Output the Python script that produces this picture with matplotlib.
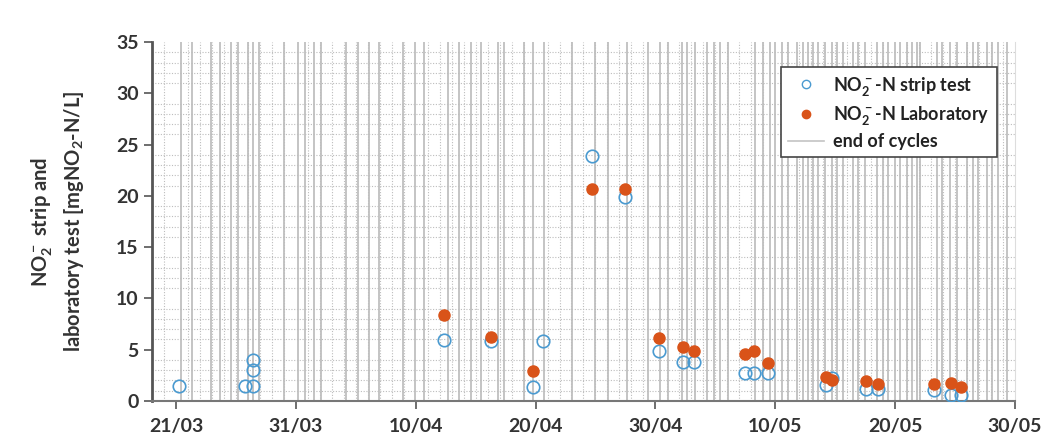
import numpy as np
import pandas as pd
import matplotlib
matplotlib.use("Agg")
from matplotlib import pyplot as plt
import matplotlib.dates as mdates
from matplotlib.lines import Line2D

START = pd.Timestamp("2021-03-21")

# sampling days, counted from 21/03
strip_days = [0.25, 5.75, 6.4, 6.4, 6.4, 22.4, 26.3, 29.75, 30.6, 34.75, 37.5,
              40.3, 42.3, 43.25, 47.5, 48.25, 49.4, 54.2, 54.7, 57.6, 58.6,
              63.25, 64.7, 65.5]
strip_vals = [1.5, 1.5, 1.5, 3.0, 4.0, 5.9, 5.85, 1.4, 5.85, 23.9, 19.9,
              4.9, 3.8, 3.8, 2.7, 2.7, 2.7, 1.6, 2.2, 1.2, 1.2,
              1.1, 0.6, 0.6]

lab_days = [22.4, 26.3, 29.75, 34.75, 37.5, 40.3, 42.3, 43.25, 47.5, 48.25,
            49.4, 54.2, 54.7, 57.6, 58.6, 63.25, 64.7, 65.5]
lab_vals = [8.4, 6.2, 2.9, 20.7, 20.7, 6.1, 5.3, 4.9, 4.6, 4.9,
            3.7, 2.3, 2.0, 1.9, 1.7, 1.7, 1.8, 1.35]

# end of each treatment cycle, days from 21/03
cycle_days = [0.42, 1.33, 2.92, 3.67, 4.58, 5.17, 6.0, 6.42, 6.92, 9.0, 10.17,
              10.75, 11.5, 12.08, 14.17, 15.17, 16.08, 16.92, 18.92, 19.92,
              20.67, 22.67, 23.58, 24.58, 25.42, 26.83, 27.33, 29.0, 29.83,
              30.67, 33.08, 35.0, 36.08, 37.67, 39.42, 40.42, 41.08, 42.25,
              42.67, 43.33, 44.33, 44.92, 45.42, 46.08, 48.33, 49.0, 49.58,
              50.0, 50.58, 51.08, 51.83, 52.33, 52.75, 53.17, 53.58, 54.17,
              54.75, 55.17, 55.67, 56.5, 56.92, 57.5, 58.5, 59.0, 59.42, 60.0,
              60.42, 61.0, 61.42, 61.83, 62.08, 63.5, 63.92, 64.58, 65.17,
              66.0, 66.5, 66.92, 67.67, 68.08, 68.58, 69.33]

tick_days = [0, 10, 20, 30, 40, 50, 60, 70]


def to_dates(days):
    return START + pd.to_timedelta(np.asarray(days), unit="D")


BLUE = "#4a9ad0"
ORANGE = "#d95319"
GRID = "#c4c4c4"
TEXT = "#333333"

plt.rcParams["font.family"] = ["Lato", "DejaVu Sans"]
plt.rcParams["mathtext.fontset"] = "custom"
plt.rcParams["mathtext.rm"] = "Lato:bold"
plt.rcParams["mathtext.bf"] = "Lato:bold"

fig = plt.figure(figsize=(10.48, 4.48), dpi=100)
ax = fig.add_axes([0.145, 0.105, 0.8235, 0.801])

x0 = mdates.date2num(to_dates([-2])[0])
x1 = mdates.date2num(to_dates([70])[0])
ax.set_xlim(x0, x1)
ax.set_ylim(0, 35)

# dotted minor grid: daily and every 1 mg/L
ax.set_xticks(mdates.date2num(to_dates(np.arange(-2, 71))), minor=True)
ax.set_yticks(np.arange(0, 36, 1), minor=True)
ax.grid(which="minor", color="#bdbdbd", linestyle=(0, (1, 1.5)), linewidth=0.8)
ax.tick_params(which="minor", length=0)

# end of cycles
for d in mdates.date2num(to_dates(cycle_days)):
    ax.axvline(d, color=GRID, linewidth=1.4, zorder=1)

ax.plot(mdates.date2num(to_dates(strip_days)), strip_vals, "o", mfc="none",
        mec=BLUE, mew=1.2, ms=9, zorder=3)
ax.plot(mdates.date2num(to_dates(lab_days)), lab_vals, "o", mfc=ORANGE,
        mec=ORANGE, ms=8, zorder=4)

ax.set_xticks(mdates.date2num(to_dates(tick_days)))
ax.set_xticklabels([d.strftime("%d/%m") for d in to_dates(tick_days)])
ax.set_yticks(np.arange(0, 36, 5))
ax.tick_params(which="major", direction="out", length=6, width=1.2,
               colors="#555555", labelcolor=TEXT, labelsize=14)
ax.tick_params(axis="x", pad=6)
for lab in ax.get_xticklabels() + ax.get_yticklabels():
    lab.set_fontweight("bold")

ax.spines["top"].set_visible(False)
ax.spines["right"].set_color("#dddddd")
ax.spines["left"].set_color("#555555")
ax.spines["left"].set_linewidth(2)
ax.spines["bottom"].set_color("#777777")
ax.spines["bottom"].set_linewidth(1.5)

ax.set_ylabel("NO$_2^-$ strip and\nlaboratory test [mgNO$_2$-N/L]",
              fontsize=14.5, fontweight="bold", color=TEXT, labelpad=22,
              linespacing=1.35)

handles = [
    Line2D([], [], marker="o", ls="none", mfc="none", mec=BLUE, ms=6),
    Line2D([], [], marker="o", ls="none", mfc=ORANGE, mec=ORANGE, ms=6),
    Line2D([], [], color=GRID, lw=1.2),
]
labels = ["NO$_2^-$-N strip test", "NO$_2^-$-N Laboratory", "end of cycles"]
leg = ax.legend(handles, labels, loc="upper right", bbox_to_anchor=(0.9895, 0.955),
                fontsize=13, frameon=True, fancybox=False, framealpha=1,
                edgecolor="#444444", handlelength=2.0, borderpad=0.4,
                labelspacing=0.35, handletextpad=0.5)
leg.get_frame().set_linewidth(1.2)
for t in leg.get_texts():
    t.set_fontweight("bold")
    t.set_color("#222222")

fig.savefig("out.png", dpi=100)
